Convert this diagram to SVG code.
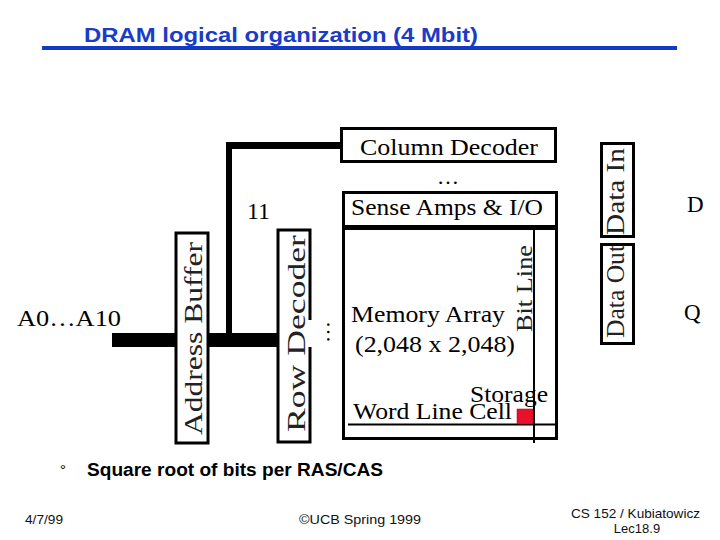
<svg xmlns="http://www.w3.org/2000/svg" width="720" height="540" viewBox="0 0 720 540">
<style>
.serif{font-family:"Liberation Serif","Times New Roman",serif;fill:#000}
.sans{font-family:"Liberation Sans",Arial,sans-serif}
.box{fill:#fff;stroke:#000;stroke-width:3}
.thin{fill:none;stroke:#000;stroke-width:2}
.wire{fill:#000}
.rot{fill:#222}
</style>
<rect width="720" height="540" fill="#fff"/>
<g id="title">
<text class="sans" x="84" y="42" font-size="21" font-weight="bold" fill="#1a3cc8" textLength="394" lengthAdjust="spacingAndGlyphs">DRAM logical organization (4 Mbit)</text>
<rect x="42" y="46" width="635" height="4" fill="#1438c8"/>
</g>
<g id="connectors">
<rect class="wire" x="112" y="333" width="63" height="14"/>
<rect class="wire" x="209" y="333" width="68" height="14"/>
<rect class="wire" x="226" y="142" width="6" height="196"/>
<rect class="wire" x="226" y="142" width="115" height="7"/>
</g>
<g id="address-input">
<text class="serif" x="17" y="326" font-size="24" textLength="104" lengthAdjust="spacingAndGlyphs">A0…A10</text>
</g>
<g id="address-buffer">
<rect class="box" x="176" y="233" width="32" height="210" stroke-width="2.5"/>
<text class="serif rot" transform="translate(202,435) rotate(-90)" font-size="25" textLength="193" lengthAdjust="spacingAndGlyphs">Address Buffer</text>
</g>
<g id="bus-width">
<text class="serif" x="247" y="219" font-size="24">11</text>
</g>
<g id="row-decoder">
<path class="box" d="M310,320 V230 H278 V442 H310 V347" fill="#fff" stroke-width="2.5"/>
<text class="serif rot" transform="translate(305,432) rotate(-90)" font-size="25" textLength="197" lengthAdjust="spacingAndGlyphs">Row Decoder</text>
<text class="serif" transform="translate(327,321) rotate(90)" font-size="22">…</text>
</g>
<g id="column-decoder">
<rect class="box" x="341.5" y="128.5" width="214" height="33"/>
<text class="serif" x="360" y="155" font-size="24" textLength="178" lengthAdjust="spacingAndGlyphs">Column Decoder</text>
<text class="serif" x="448" y="184" font-size="22" text-anchor="middle">…</text>
</g>
<g id="sense-amps">
<rect class="box" x="343.5" y="192.5" width="213" height="34"/>
<text class="serif" x="351" y="215" font-size="24" textLength="192" lengthAdjust="spacingAndGlyphs">Sense Amps &amp; I/O</text>
</g>
<g id="memory-array">
<rect class="box" x="343.5" y="227.5" width="213" height="211"/>
<rect x="343" y="225" width="215" height="5" fill="#000"/>
<line class="thin" x1="534" y1="229" x2="534" y2="443"/>
<line class="thin" x1="348" y1="424.5" x2="556" y2="424.5"/>
<rect x="517" y="409" width="16" height="15" fill="#e8102a" stroke="#a00010" stroke-width="0.5"/>
<text class="serif" x="351" y="322" font-size="24" textLength="154" lengthAdjust="spacingAndGlyphs">Memory Array</text>
<text class="serif" x="355" y="352" font-size="24" textLength="160" lengthAdjust="spacingAndGlyphs">(2,048 x 2,048)</text>
<text class="serif" x="353" y="419" font-size="23" textLength="159" lengthAdjust="spacingAndGlyphs">Word Line Cell</text>
<text class="serif" x="470" y="402" font-size="23" textLength="78" lengthAdjust="spacingAndGlyphs">Storage</text>
<text class="serif rot" transform="translate(532,332) rotate(-90)" font-size="24" textLength="87" lengthAdjust="spacingAndGlyphs">Bit Line</text>
</g>
<g id="data-in">
<rect class="box" x="601.5" y="143.5" width="32" height="93"/>
<text class="serif rot" transform="translate(624,235) rotate(-90)" font-size="25" textLength="87" lengthAdjust="spacingAndGlyphs">Data In</text>
</g>
<g id="data-out">
<rect class="box" x="601.5" y="244.5" width="32" height="99"/>
<text class="serif rot" transform="translate(624,338) rotate(-90)" font-size="25" textLength="93" lengthAdjust="spacingAndGlyphs">Data Out</text>
</g>
<g id="pin-d">
<text class="serif" x="687" y="212" font-size="23">D</text>
</g>
<g id="pin-q">
<text class="serif" x="684" y="320" font-size="23">Q</text>
</g>
<g id="bullet">
<text class="sans" x="60" y="475" font-size="15" fill="#000">°</text>
<text class="sans" x="87" y="476" font-size="18" font-weight="bold" fill="#000" textLength="296" lengthAdjust="spacingAndGlyphs">Square root of bits per RAS/CAS</text>
</g>
<g id="footer" class="sans" font-size="13" fill="#111">
<text x="25" y="524" textLength="38" lengthAdjust="spacingAndGlyphs">4/7/99</text>
<text x="299" y="524" textLength="122" lengthAdjust="spacingAndGlyphs">©UCB Spring 1999</text>
<text x="571" y="518" textLength="129" lengthAdjust="spacingAndGlyphs">CS 152 / Kubiatowicz</text>
<text x="637" y="533" text-anchor="middle">Lec18.9</text>
</g>
</svg>
